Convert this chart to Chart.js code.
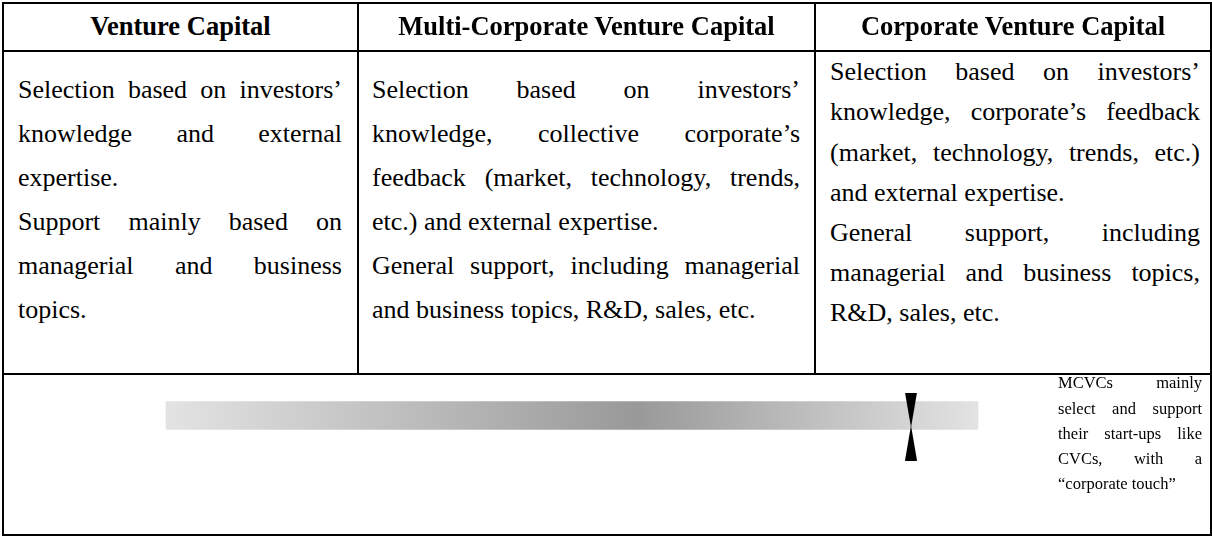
<!DOCTYPE html>
<html>
<head>
<meta charset="utf-8">
<script src="https://cdn.jsdelivr.net/npm/chart.js@4/dist/chart.umd.min.js"></script>
<style>
  html, body { margin: 0; padding: 0; background: #fff; }
  #wrap { position: relative; width: 1212px; height: 536px; overflow: hidden; background: #fff;
          font-family: "Liberation Serif", "Times New Roman", serif; color: #000; }
  .rule { position: absolute; background: #000; }
  .ln { position: absolute; white-space: nowrap; }
  .j { text-align: justify; text-align-last: justify; white-space: normal; }
  .c { text-align: center; }
  #spectrum { position: absolute; left: 0; top: 375px; }
</style>
</head>
<body>
<div id="wrap">
  <canvas id="spectrum" width="1212" height="159"></canvas>
</div>
<script>
// ---- data ----
const columnTitles = ['Venture Capital', 'Multi-Corporate Venture Capital', 'Corporate Venture Capital'];
const vcLines = [
  ['Selection based on investors’', true],
  ['knowledge and external', true],
  ['expertise.', false],
  ['Support mainly based on', true],
  ['managerial and business', true],
  ['topics.', false]
];
const mcvcLines = [
  ['Selection based on investors’', true],
  ['knowledge, collective corporate’s', true],
  ['feedback (market, technology, trends,', true],
  ['etc.) and external expertise.', false],
  ['General support, including managerial', true],
  ['and business topics, R&D, sales, etc.', false]
];
const cvcLines = [
  ['Selection based on investors’', true],
  ['knowledge, corporate’s feedback', true],
  ['(market, technology, trends, etc.)', true],
  ['and external expertise.', false],
  ['General support, including', true],
  ['managerial and business topics,', true],
  ['R&D, sales, etc.', false]
];
const noteLines = [
  ['MCVCs mainly', true],
  ['select and support', true],
  ['their start-ups like', true],
  ['CVCs, with a', true],
  ['“corporate touch”', false]
];
// spectrum bar (start, end) and position of the MCVC marker on the VC→CVC axis
const spectrumBar = [166, 978];
const mcvcMarker = 911;

// ---- layout helpers ----
const wrap = document.getElementById('wrap');
function rule(x, y, w, h) {
  const d = document.createElement('div');
  d.className = 'rule';
  Object.assign(d.style, { left: x + 'px', top: y + 'px', width: w + 'px', height: h + 'px' });
  wrap.appendChild(d);
}
function line(text, x, w, baseline, fs, lh, opts) {
  const d = document.createElement('div');
  d.className = 'ln' + (opts.justify ? ' j' : '') + (opts.center ? ' c' : '');
  d.textContent = text;
  const top = baseline - ((lh - 1.107 * fs) / 2 + 0.891 * fs);
  Object.assign(d.style, {
    left: x + 'px', top: top + 'px', width: w + 'px', height: lh + 'px',
    fontSize: fs + 'px', lineHeight: lh + 'px', fontWeight: opts.bold ? 'bold' : 'normal'
  });
  wrap.appendChild(d);
}
function block(lines, x, w, firstBaseline, step, fs) {
  lines.forEach((l, i) => line(l[0], x, w, firstBaseline + i * step, fs, Math.round(step), { justify: l[1] }));
}

// frame
rule(2, 2, 1210, 2);      // top
rule(2, 534, 1210, 2);    // bottom
rule(2, 2, 2, 534);       // left
rule(1210, 2, 2, 534);    // right
rule(2, 50, 1210, 2);     // header bottom
rule(2, 373, 1210, 2);    // bottom row top
rule(357, 2, 2, 373);     // col divider 1
rule(814, 2, 2, 373);     // col divider 2

// headers
const colBounds = [[4, 357], [359, 814], [816, 1210]];
columnTitles.forEach((t, i) => {
  const [a, b] = colBounds[i];
  line(t, a, b - a, 35, 26.5, 32, { bold: true, center: true });
});

// cells
block(vcLines, 18, 324, 99, 44, 26);
block(mcvcLines, 372, 428, 99, 44, 26);
block(cvcLines, 830, 370, 81, 40.2, 26);
block(noteLines, 1058, 144, 388.5, 25.2, 16.5);

// ---- spectrum chart ----
const bowtie = document.createElement('canvas');
bowtie.width = 12; bowtie.height = 68;
(function () {
  const c = bowtie.getContext('2d');
  c.fillStyle = '#000';
  c.beginPath(); c.moveTo(0, 0); c.lineTo(12, 0); c.lineTo(6, 35); c.closePath(); c.fill();
  c.beginPath(); c.moveTo(6, 33); c.lineTo(12, 68); c.lineTo(0, 68); c.closePath(); c.fill();
})();

new Chart(document.getElementById('spectrum'), {
  type: 'bar',
  data: {
    datasets: [
      {
        type: 'bar',
        order: 2,
        data: [{ x: spectrumBar, y: 40.5 }],
        barThickness: 28,
        borderWidth: 0,
        backgroundColor: (c) => {
          const chart = c.chart;
          const { ctx, chartArea, scales } = chart;
          if (!chartArea) return '#bbbbbb';
          const x0 = scales.x.getPixelForValue(spectrumBar[0]);
          const x1 = scales.x.getPixelForValue(spectrumBar[1]);
          const g = ctx.createLinearGradient(x0, 0, x1, 0);
          g.addColorStop(0, '#e3e3e3');
          g.addColorStop(0.58, '#999999');
          g.addColorStop(1, '#e3e3e3');
          return g;
        }
      },
      {
        type: 'scatter',
        order: 1,
        data: [{ x: mcvcMarker, y: 51.5 }],
        pointStyle: bowtie,
        pointRadius: 6,
        pointHoverRadius: 6
      }
    ]
  },
  options: {
    indexAxis: 'y',
    responsive: false,
    animation: false,
    events: [],
    layout: { padding: 0, autoPadding: false },
    plugins: { legend: { display: false }, tooltip: { enabled: false } },
    scales: {
      x: { type: 'linear', min: 0, max: 1212, display: false, offset: false },
      y: { type: 'linear', min: 0, max: 159, reverse: true, display: false, offset: false }
    }
  }
});
</script>
</body>
</html>
